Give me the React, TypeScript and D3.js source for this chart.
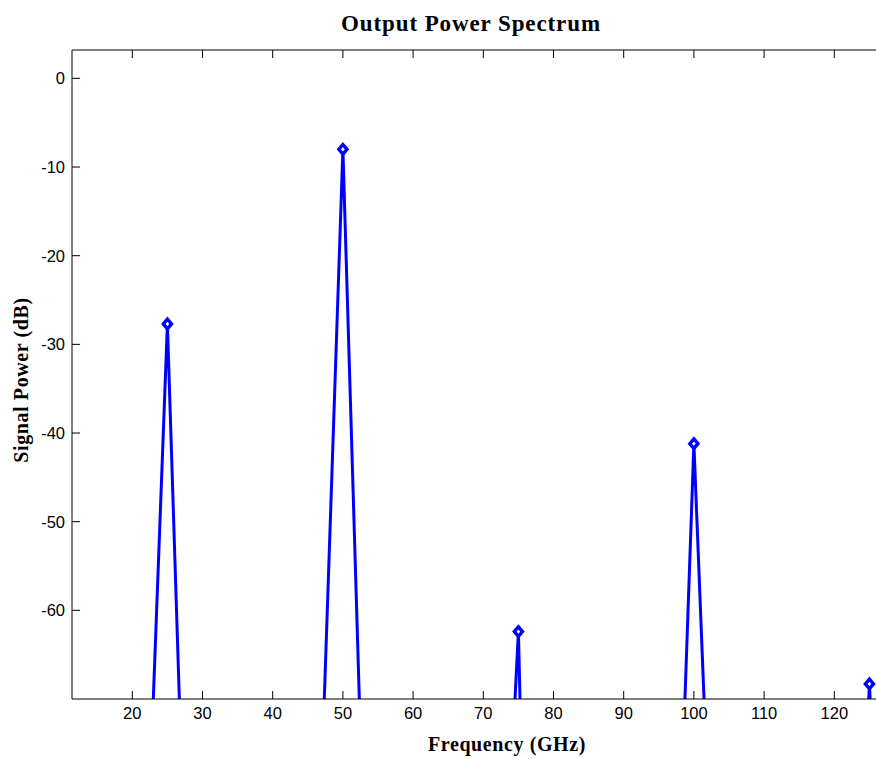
import React from "react";
import * as d3 from "d3";

const freqGHz = [5, 10, 15, 20, 25, 30, 35, 40, 45, 50, 55, 60, 65, 70, 75, 80, 85, 90, 95, 100, 105, 110, 115, 120, 125, 130];
const powerDb = [-160, -148, -171, -133, -27.7, -152, -165, -158, -125, -8.0, -140.5, -162, -150, -141, -62.4, -227, -170, -155, -154, -41.2, -141, -166, -150, -160, -68.3, -150];
const xTicks = [20, 30, 40, 50, 60, 70, 80, 90, 100, 110, 120];
const yTicks = [0, -10, -20, -30, -40, -50, -60];
const titleText = "Output Power Spectrum";
const xLabelText = "Frequency (GHz)";
const yLabelText = "Signal Power (dB)";

const W = 876;
const H = 759;
const L = 72;
const R = 884;
const T = 50;
const B = 699;

export default function App() {
  const x = d3.scaleLinear().domain([11.41, 127.08]).range([L, R]);
  const y = d3.scaleLinear().domain([-70, 3.2]).range([B, T]);
  const pts = freqGHz.map((f, i) => [f, powerDb[i]] as [number, number]);
  const line = d3
    .line<[number, number]>()
    .x((d) => x(d[0]))
    .y((d) => y(d[1]));
  const blue = "#0000ff";
  const tickLen = 8;
  const serif = "'Liberation Serif', 'Times New Roman', serif";
  const sans = "'Liberation Sans', Arial, sans-serif";
  const ms = 4.8;
  return (
    <svg
      width={W}
      height={H}
      style={{ position: "absolute", left: 0, top: 0, background: "#fff" }}
    >
      <defs>
        <clipPath id="plotclip">
          <rect x={L} y={T} width={R - L} height={B - T} />
        </clipPath>
      </defs>
      <rect x={0} y={0} width={W} height={H} fill="#fff" />
      <g clipPath="url(#plotclip)">
        <path d={line(pts) || ""} fill="none" stroke={blue} strokeWidth={3} strokeLinejoin="round" />
        {pts.map((p, i) => (
          <path
            key={i}
            d={`M${x(p[0])},${y(p[1]) - ms} L${x(p[0]) + ms * 0.85},${y(p[1])} L${x(p[0])},${y(p[1]) + ms} L${x(p[0]) - ms * 0.85},${y(p[1])} Z`}
            fill="#fff"
            stroke={blue}
            strokeWidth={3.4}
            strokeLinejoin="miter"
          />
        ))}
      </g>
      <line x1={L} y1={T} x2={R} y2={T} stroke="#000" strokeWidth={1} />
      <line x1={L} y1={B} x2={R} y2={B} stroke="#000" strokeWidth={1} />
      <line x1={L} y1={T} x2={L} y2={B} stroke="#000" strokeWidth={1} />
      <line x1={R} y1={T} x2={R} y2={B} stroke="#000" strokeWidth={1} />
      {xTicks.map((t) => (
        <g key={"x" + t}>
          <line x1={x(t)} y1={B} x2={x(t)} y2={B - tickLen} stroke="#000" strokeWidth={1} />
          <line x1={x(t)} y1={T} x2={x(t)} y2={T + tickLen} stroke="#000" strokeWidth={1} />
          <text
            x={x(t)}
            y={B + 20}
            textAnchor="middle"
            fontFamily={sans}
            fontSize={16.5}
            fill="#000"
          >
            {t}
          </text>
        </g>
      ))}
      {yTicks.map((t) => (
        <g key={"y" + t}>
          <line x1={L} y1={y(t)} x2={L + tickLen} y2={y(t)} stroke="#000" strokeWidth={1} />
          <line x1={R} y1={y(t)} x2={R - tickLen} y2={y(t)} stroke="#000" strokeWidth={1} />
          <text
            x={L - 7}
            y={y(t) + 6}
            textAnchor="end"
            fontFamily={sans}
            fontSize={16.5}
            fill="#000"
          >
            {t}
          </text>
        </g>
      ))}
      <text
        x={471}
        y={31}
        textAnchor="middle"
        fontFamily={serif}
        fontWeight="bold"
        fontSize={23}
        letterSpacing={0.9}
        fill="#000"
      >
        {titleText}
      </text>
      <text
        x={507}
        y={751}
        textAnchor="middle"
        fontFamily={serif}
        fontWeight="bold"
        fontSize={20}
        letterSpacing={0.6}
        fill="#000"
      >
        {xLabelText}
      </text>
      <text
        transform={`translate(28,${380}) rotate(-90)`}
        textAnchor="middle"
        fontFamily={serif}
        fontWeight="bold"
        fontSize={20}
        letterSpacing={0.6}
        fill="#000"
      >
        {yLabelText}
      </text>
    </svg>
  );
}
